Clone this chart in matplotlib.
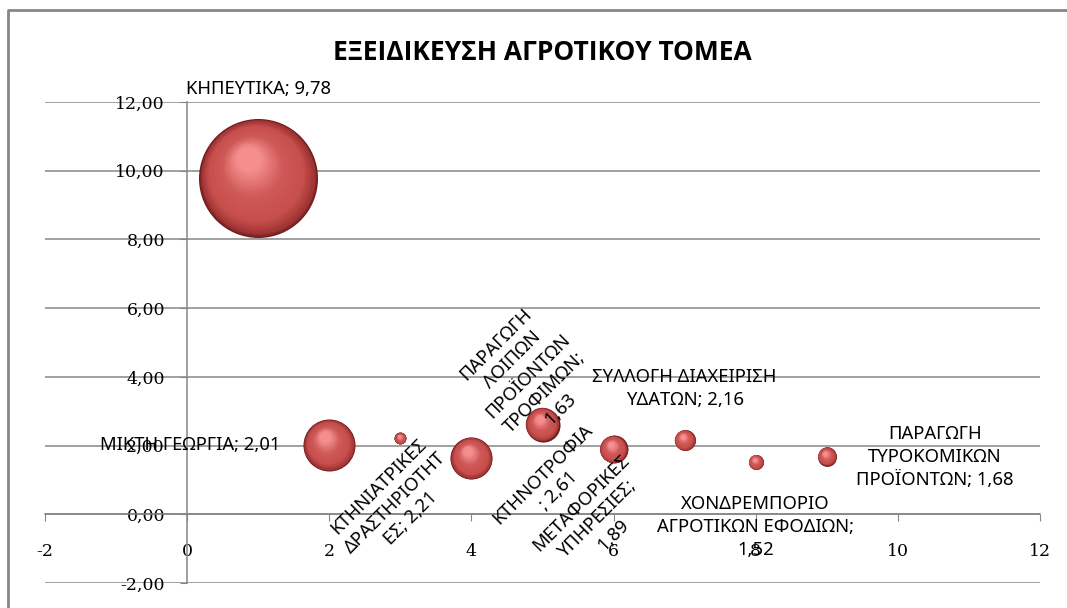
import numpy as np
import matplotlib
matplotlib.use("Agg")
import matplotlib.pyplot as plt
from matplotlib import transforms
from matplotlib.lines import Line2D

# Κλάδοι: θέση x, τιμή y (εμφανίζεται στην ετικέτα), μέγεθος φυσαλίδας
klados = ["ΚΗΠΕΥΤΙΚΑ; ", "ΜΙΚΤΗ ΓΕΩΡΓΙΑ; ", "ΚΤΗΝΙΑΤΡΙΚΕΣ\nΔΡΑΣΤΗΡΙΟΤΗΤ\nΕΣ; ",
          "ΠΑΡΑΓΩΓΗ\nΛΟΙΠΩΝ\nΠΡΟΪΟΝΤΩΝ\nΤΡΟΦΙΜΩΝ;\n", "ΚΤΗΝΟΤΡΟΦΙΑ\n; ",
          "ΜΕΤΑΦΟΡΙΚΕΣ\nΥΠΗΡΕΣΙΕΣ;\n", "ΣΥΛΛΟΓΗ ΔΙΑΧΕΙΡΙΣΗ\nΥΔΑΤΩΝ; ",
          "ΧΟΝΔΡΕΜΠΟΡΙΟ\nΑΓΡΟΤΙΚΩΝ ΕΦΟΔΙΩΝ;\n", "ΠΑΡΑΓΩΓΗ\nΤΥΡΟΚΟΜΙΚΩΝ\nΠΡΟΪΟΝΤΩΝ; "]
x_vals = [1, 2, 3, 4, 5, 6, 7, 8, 9]
y_vals = [9.78, 2.01, 2.21, 1.63, 2.61, 1.89, 2.16, 1.52, 1.68]
megethos = [100, 19.1, 1.0, 12.5, 8.2, 5.5, 3.1, 1.6, 2.5]

# θέση ετικετών (offset σε points), περιστροφή, στοίχιση
lbl_off = [(0, 64), (-35, 0), (-4, -46), (41, 59), (6, -42), (-12, -50), (0, 37), (0, -47), (78, 0)]
lbl_rot = [0, 0, 45, 45, 45, 45, 0, 0, 0]
lbl_ha = ["center", "right", "center", "center", "center", "center", "center", "center", "center"]

xticks = [-2, 0, 2, 4, 6, 8, 10, 12]
yticks = [-2, 0, 2, 4, 6, 8, 10, 12]

grey = "#868686"
sans = ["Noto Sans", "DejaVu Sans"]
serif = ["DejaVu Serif"]

fig = plt.figure(figsize=(10.67, 6.08), dpi=100)
ax = fig.add_axes([45 / 1067, 1 - 583 / 608, 995 / 1067, 481 / 608])
ax.set_xlim(-2, 12)
ax.set_ylim(-2, 12)

# πλαίσιο γραφήματος (πάνω και αριστερή πλευρά)
bx, by = 8 / 1067, 1 - 10 / 608
fig.lines.append(Line2D([bx, bx, 1.05], [-0.05, by, by], transform=fig.transFigure, color=grey, lw=2))

for yt in yticks:
    ax.axhline(yt, color=grey, lw=1.1, zorder=1)

ax.spines["top"].set_visible(False)
ax.spines["right"].set_visible(False)
ax.spines["left"].set_position(("data", 0))
ax.spines["bottom"].set_position(("data", 0))
for s in ("left", "bottom"):
    ax.spines[s].set_color(grey)
    ax.spines[s].set_linewidth(1.1)

ax.set_xticks(xticks)
ax.set_yticks(yticks)
ax.set_xticklabels([str(v) for v in xticks], family=serif, fontsize=12.5)
ax.set_yticklabels([f"{v:.2f}".replace(".", ",") for v in yticks], family=serif, fontsize=12.5)
ax.tick_params(axis="x", length=5, color=grey, pad=16)
ax.tick_params(axis="y", length=5, color=grey, pad=11)

# σφαιρικές φυσαλίδες: στρώσεις κύκλων προς το φωτεινό σημείο πάνω αριστερά
k = 73.4
stop_t = [0.0, 0.05, 0.25, 0.6, 1.0]
stop_c = np.array([[0.42, 0.11, 0.11], [0.62, 0.20, 0.20], [0.78, 0.31, 0.30],
                   [0.81, 0.35, 0.34], [0.96, 0.56, 0.56]])
n_layers = 45
for xv, yv, m in zip(x_vals, y_vals, megethos):
    d = np.sqrt(m * k)
    r = d / 2
    for i in range(n_layers):
        t = i / (n_layers - 1)
        dd = d * (1 - 0.8 * t)
        col = [np.interp(t, stop_t, stop_c[:, c]) for c in range(3)]
        tr = transforms.offset_copy(ax.transData, fig=fig, x=-0.17 * r * t, y=0.33 * r * t, units="points")
        ax.scatter([xv], [yv], s=dd ** 2, color=col, linewidths=0, transform=tr, zorder=3 + i * 0.01)

for name, xv, yv, off, rot, ha in zip(klados, x_vals, y_vals, lbl_off, lbl_rot, lbl_ha):
    text = name + f"{yv:.2f}".replace(".", ",")
    ax.annotate(text, xy=(xv, yv), xytext=off, textcoords="offset points",
                ha=ha, va="center", rotation=rot, rotation_mode="anchor",
                multialignment="center", linespacing=1.35,
                fontsize=13.3, family=sans, color="black", zorder=10)

fig.text(542 / 1067, 1 - 52 / 608, "ΕΞΕΙΔΙΚΕΥΣΗ ΑΓΡΟΤΙΚΟΥ ΤΟΜΕΑ", ha="center", va="center",
         fontsize=19, fontweight="bold", family=["Open Sans", "DejaVu Sans"])

fig.savefig("out.png", dpi=100, facecolor="white")
